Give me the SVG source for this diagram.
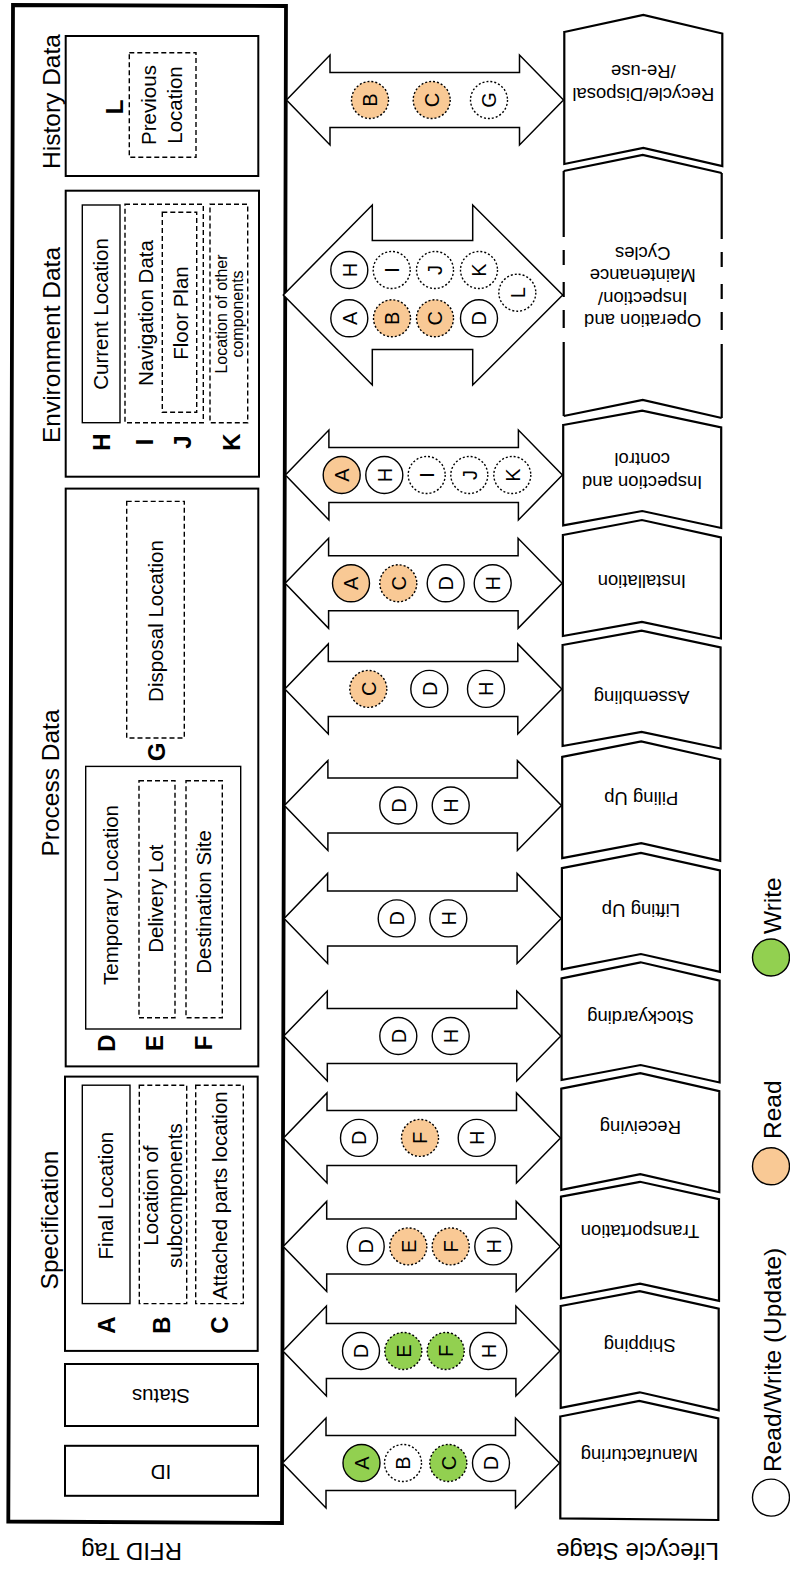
<svg xmlns="http://www.w3.org/2000/svg" width="790" height="1571" viewBox="0 0 790 1571">
<style>
  text { font-family: "Liberation Sans", Arial, sans-serif; fill: #000; }
  .title { font-size: 24.5px; }
  .lbl { font-size: 20.5px; }
  .small { font-size: 16px; }
  .key { font-size: 24px; font-weight: bold; }
  .st { font-size: 18.5px; }
  .cl { font-size: 20px; }
  .legend { font-size: 24.5px; }
  .big { font-size: 24px; }
  .outer { fill: #fff; stroke: #000; stroke-width: 3.8; }
  .box { fill: #fff; stroke: #000; stroke-width: 2; }
  .thin { fill: none; stroke: #000; stroke-width: 1.4; }
  .dash { fill: none; stroke: #000; stroke-width: 1.4; stroke-dasharray: 5 3; }
  .arrow { fill: #fff; stroke: #000; stroke-width: 1.5; stroke-linejoin: miter; }
  .stage { fill: #fff; stroke: #000; stroke-width: 2.2; stroke-linejoin: miter; }
  .edge { fill: none; stroke: #000; stroke-width: 2.2; }
  .side { fill: none; stroke: #000; stroke-width: 2.2; stroke-dasharray: 66 13 15 17 15 13 18 14 300; }
  .c { fill: #fff; stroke: #000; stroke-width: 1.4; }
  .dot { stroke-dasharray: 2 2; }
  .rd { fill: #F9C995; }
  .wr { fill: #92D050; }
</style>
<defs>
  <path id="dbl" d="M284.5,0 L328,-45 L328,-27.5 L517.5,-27.5 L517.5,-45 L561.5,0 L517.5,45 L517.5,27.5 L328,27.5 L328,45 Z"/>
</defs>
<rect width="790" height="1571" fill="#fff"/>

<!-- RFID tag container -->
<g id="rfid-tag">
  <polygon class="outer" points="13,5 286,6 282,1523 8.3,1521.5"/>
</g>

<g id="history-data">
  <text class="title" transform="translate(60,101.5) rotate(-90)" text-anchor="middle">History Data</text>
  <rect class="box" x="65.7" y="36" width="192.6" height="140"/>
  <text class="key" transform="translate(123,107) rotate(-90)" text-anchor="middle">L</text>
  <rect class="dash" x="129.3" y="52.7" width="66.7" height="104.6"/>
  <text class="lbl" transform="translate(156,105) rotate(-90)" text-anchor="middle"><tspan x="0" y="0">Previous</tspan><tspan x="0" y="25.5">Location</tspan></text>
</g>

<g id="environment-data">
  <text class="title" transform="translate(60,345) rotate(-90)" text-anchor="middle">Environment Data</text>
  <rect class="box" x="65.7" y="190.7" width="193.3" height="286"/>
  <rect class="thin" x="82.3" y="205" width="37.7" height="217.7"/>
  <text class="lbl" transform="translate(108,314) rotate(-90)" text-anchor="middle">Current Location</text>
  <rect class="dash" x="125" y="204.3" width="78.3" height="218.4"/>
  <text class="lbl" transform="translate(153,313) rotate(-90)" text-anchor="middle">Navigation Data</text>
  <rect class="dash" x="162.3" y="212.3" width="34.4" height="200"/>
  <text class="lbl" transform="translate(188,313) rotate(-90)" text-anchor="middle">Floor Plan</text>
  <rect class="dash" x="210" y="204.3" width="37.7" height="218.4"/>
  <text class="small" transform="translate(226.7,314) rotate(-90)" text-anchor="middle"><tspan x="0" y="0">Location of other</tspan><tspan x="0" y="16.3">components</tspan></text>
  <text class="key" transform="translate(110,442) rotate(-90)" text-anchor="middle">H</text>
  <text class="key" transform="translate(153,442) rotate(-90)" text-anchor="middle">I</text>
  <text class="key" transform="translate(191,442) rotate(-90)" text-anchor="middle">J</text>
  <text class="key" transform="translate(240,442) rotate(-90)" text-anchor="middle">K</text>
</g>

<g id="process-data">
  <text class="title" transform="translate(58.5,783) rotate(-90)" text-anchor="middle">Process Data</text>
  <rect class="box" x="65.7" y="488.6" width="192.6" height="577.8"/>
  <rect class="dash" x="126.7" y="501.4" width="57.6" height="236.6"/>
  <text class="lbl" transform="translate(163,621) rotate(-90)" text-anchor="middle">Disposal Location</text>
  <text class="key" transform="translate(164.5,752) rotate(-90)" text-anchor="middle">G</text>
  <rect class="thin" x="85.7" y="766.4" width="155" height="262.6"/>
  <text class="lbl" transform="translate(118.3,895) rotate(-90)" text-anchor="middle">Temporary Location</text>
  <rect class="dash" x="139" y="780.7" width="36" height="237"/>
  <text class="lbl" transform="translate(163.3,898.6) rotate(-90)" text-anchor="middle">Delivery Lot</text>
  <rect class="dash" x="186" y="780.7" width="36.3" height="237"/>
  <text class="lbl" transform="translate(210.7,902) rotate(-90)" text-anchor="middle">Destination Site</text>
  <text class="key" transform="translate(115,1043) rotate(-90)" text-anchor="middle">D</text>
  <text class="key" transform="translate(163.3,1043) rotate(-90)" text-anchor="middle">E</text>
  <text class="key" transform="translate(211.7,1043) rotate(-90)" text-anchor="middle">F</text>
</g>

<g id="specification">
  <text class="title" transform="translate(57.5,1220) rotate(-90)" text-anchor="middle">Specification</text>
  <rect class="box" x="65" y="1076.6" width="192.7" height="274.3"/>
  <rect class="thin" x="82.3" y="1085.2" width="47.7" height="218.4"/>
  <text class="lbl" transform="translate(113.3,1195.6) rotate(-90)" text-anchor="middle">Final Location</text>
  <rect class="dash" x="139.3" y="1085.2" width="47.4" height="218.4"/>
  <text class="lbl" transform="translate(157.5,1195.6) rotate(-90)" text-anchor="middle"><tspan x="0" y="0">Location of</tspan><tspan x="0" y="24">subcomponents</tspan></text>
  <rect class="dash" x="195.7" y="1085.2" width="47.6" height="218.4"/>
  <text class="lbl" transform="translate(226.7,1195.6) rotate(-90)" text-anchor="middle">Attached parts location</text>
  <text class="key" transform="translate(115,1325) rotate(-90)" text-anchor="middle">A</text>
  <text class="key" transform="translate(170,1325) rotate(-90)" text-anchor="middle">B</text>
  <text class="key" transform="translate(228,1325) rotate(-90)" text-anchor="middle">C</text>
</g>

<g id="status">
  <rect class="box" x="65" y="1364" width="193" height="62"/>
  <text class="lbl" transform="translate(161,1389) rotate(180)" text-anchor="middle">Status</text>
</g>

<g id="tag-id">
  <rect class="box" x="65" y="1445.8" width="193" height="50"/>
  <text class="lbl" transform="translate(161,1464.5) rotate(180)" text-anchor="middle">ID</text>
</g>

<text class="big" transform="translate(131.5,1543) rotate(180)" text-anchor="middle">RFID Tag</text>

<!-- lifecycle stages -->
<g id="stage-recycle">
  <polygon class="stage" points="564.3,32 643.3,15 722.3,33.5 722.3,166 643.3,148 564.3,164"/>
  <text class="st" transform="translate(643.3,88) rotate(180)" text-anchor="middle"><tspan x="0" y="0">Recycle/Disposal</tspan><tspan x="0" y="23">/Re-use</tspan></text>
</g>
<g id="stage-operation">
  <polygon points="563.7,171 642.7,155 721.7,173 721.7,418 642.7,400 563.7,416" fill="#fff"/>
  <path class="edge" d="M563.7,171 L642.7,155 L721.7,173 M563.7,416 L642.7,400 L721.7,418"/>
  <path class="side" d="M563.7,171 V416 M721.7,173 V418"/>
  <text class="st" transform="translate(642.7,314) rotate(180)" text-anchor="middle"><tspan x="0" y="0">Operation and</tspan><tspan x="0" y="22.5">Inspection/</tspan><tspan x="0" y="45">Maintenance</tspan><tspan x="0" y="67.5">Cycles</tspan></text>
</g>
<g id="stage-inspection">
  <polygon class="stage" points="563.2,425 642.2,410.7 721.2,427.3 721.2,528 642.2,511 563.2,525.4"/>
  <text class="st" transform="translate(642.2,475.5) rotate(180)" text-anchor="middle"><tspan x="0" y="0">Inspection and</tspan><tspan x="0" y="23">control</tspan></text>
</g>
<g id="stage-installation">
  <polygon class="stage" points="562.9,535 641.9,520 720.9,537.5 720.9,638.5 641.9,621.8 562.9,636"/>
  <text class="st" transform="translate(641.9,575) rotate(180)" text-anchor="middle">Installation</text>
</g>
<g id="stage-assembling">
  <polygon class="stage" points="562.6,645 641.6,630.7 720.6,647.5 720.6,748.5 641.6,731.8 562.6,746"/>
  <text class="st" transform="translate(641.6,691) rotate(180)" text-anchor="middle">Assembling</text>
</g>
<g id="stage-piling">
  <polygon class="stage" points="562.2,756.8 641.2,741.4 720.2,759.3 720.2,860.8 641.2,843.2 562.2,858.2"/>
  <text class="st" transform="translate(641.2,791.5) rotate(180)" text-anchor="middle">Piling Up</text>
</g>
<g id="stage-lifting">
  <polygon class="stage" points="561.9,868.2 640.9,852.9 719.9,870.5 719.9,971.8 640.9,954 561.9,969.3"/>
  <text class="st" transform="translate(640.9,904) rotate(180)" text-anchor="middle">Lifting Up</text>
</g>
<g id="stage-stockyarding">
  <polygon class="stage" points="561.6,978.3 640.6,962.3 719.6,980.7 719.6,1082.5 640.6,1065 561.6,1080"/>
  <text class="st" transform="translate(640.6,1011) rotate(180)" text-anchor="middle">Stockyarding</text>
</g>
<g id="stage-receiving">
  <polygon class="stage" points="561.3,1088.7 640.3,1073.1 719.3,1091.2 719.3,1192.2 640.3,1174.2 561.3,1189.8"/>
  <text class="st" transform="translate(640.3,1121.4) rotate(180)" text-anchor="middle">Receiving</text>
</g>
<g id="stage-transportation">
  <polygon class="stage" points="561,1196.7 640,1181.8 719,1199.1 719,1300.9 640,1283.6 561,1298.5"/>
  <text class="st" transform="translate(640,1225) rotate(180)" text-anchor="middle">Transportation</text>
</g>
<g id="stage-shipping">
  <polygon class="stage" points="560.7,1306 639.7,1291.2 718.7,1308.6 718.7,1410.4 639.7,1392.3 560.7,1407.9"/>
  <text class="st" transform="translate(639.7,1339) rotate(180)" text-anchor="middle">Shipping</text>
</g>
<g id="stage-manufacturing">
  <polygon class="stage" points="560.3,1416.5 639.3,1400.9 718.3,1418.5 718.3,1520 560.3,1518.3"/>
  <text class="st" transform="translate(639.3,1449) rotate(180)" text-anchor="middle">Manufacturing</text>
</g>

<text class="big" transform="translate(637.5,1543) rotate(180)" text-anchor="middle">Lifecycle Stage</text>

<!-- two-way data exchange arrows between tag and stages -->
<g id="connectors">
  <use href="#dbl" class="arrow" x="2" y="100"/>
  <path class="arrow" d="M283.3,295 L372.3,205 L372.3,240.5 L472.7,240.5 L472.7,205 L562.7,295 L472.7,385 L472.7,349.5 L372.3,349.5 L372.3,385 Z"/>
  <use href="#dbl" class="arrow" x="0.9" y="475"/>
  <use href="#dbl" class="arrow" x="0.6" y="583.3"/>
  <use href="#dbl" class="arrow" x="0.3" y="688.9"/>
  <use href="#dbl" class="arrow" x="-0.1" y="805.5"/>
  <use href="#dbl" class="arrow" x="-0.4" y="918.4"/>
  <use href="#dbl" class="arrow" x="-0.7" y="1036"/>
  <use href="#dbl" class="arrow" x="-1" y="1137.9"/>
  <use href="#dbl" class="arrow" x="-1.3" y="1246.4"/>
  <use href="#dbl" class="arrow" x="-1.6" y="1351"/>
  <use href="#dbl" class="arrow" x="-2" y="1463"/>
</g>

<!-- data items touched at each stage -->
<g id="items-recycle">
  <circle class="c rd dot" cx="370" cy="100" r="18.5"/><text class="cl" transform="translate(370,100) rotate(-90)" text-anchor="middle" y="7.2">B</text>
  <circle class="c rd dot" cx="431.7" cy="100" r="18.5"/><text class="cl" transform="translate(431.7,100) rotate(-90)" text-anchor="middle" y="7.2">C</text>
  <circle class="c dot" cx="489" cy="100" r="18.5"/><text class="cl" transform="translate(489,100) rotate(-90)" text-anchor="middle" y="7.2">G</text>
</g>
<g id="items-operation">
  <circle class="c" cx="349.3" cy="270" r="18.5"/><text class="cl" transform="translate(349.3,270) rotate(-90)" text-anchor="middle" y="7.2">H</text>
  <circle class="c dot" cx="391.7" cy="270" r="18.5"/><text class="cl" transform="translate(391.7,270) rotate(-90)" text-anchor="middle" y="7.2">I</text>
  <circle class="c dot" cx="435" cy="270" r="18.5"/><text class="cl" transform="translate(435,270) rotate(-90)" text-anchor="middle" y="7.2">J</text>
  <circle class="c dot" cx="479" cy="270" r="18.5"/><text class="cl" transform="translate(479,270) rotate(-90)" text-anchor="middle" y="7.2">K</text>
  <circle class="c" cx="349.3" cy="318.3" r="18.5"/><text class="cl" transform="translate(349.3,318.3) rotate(-90)" text-anchor="middle" y="7.2">A</text>
  <circle class="c rd dot" cx="392" cy="318.3" r="18.5"/><text class="cl" transform="translate(392,318.3) rotate(-90)" text-anchor="middle" y="7.2">B</text>
  <circle class="c rd dot" cx="435" cy="318.3" r="18.5"/><text class="cl" transform="translate(435,318.3) rotate(-90)" text-anchor="middle" y="7.2">C</text>
  <circle class="c" cx="479" cy="318.3" r="18.5"/><text class="cl" transform="translate(479,318.3) rotate(-90)" text-anchor="middle" y="7.2">D</text>
  <circle class="c dot" cx="517.3" cy="292.7" r="18.5"/><text class="cl" transform="translate(517.3,292.7) rotate(-90)" text-anchor="middle" y="7.2">L</text>
</g>
<g id="items-inspection">
  <circle class="c rd" cx="341.7" cy="475" r="18.5"/><text class="cl" transform="translate(341.7,475) rotate(-90)" text-anchor="middle" y="7.2">A</text>
  <circle class="c" cx="384.3" cy="475" r="18.5"/><text class="cl" transform="translate(384.3,475) rotate(-90)" text-anchor="middle" y="7.2">H</text>
  <circle class="c dot" cx="426.7" cy="475" r="18.5"/><text class="cl" transform="translate(426.7,475) rotate(-90)" text-anchor="middle" y="7.2">I</text>
  <circle class="c dot" cx="469.3" cy="475" r="18.5"/><text class="cl" transform="translate(469.3,475) rotate(-90)" text-anchor="middle" y="7.2">J</text>
  <circle class="c dot" cx="512.3" cy="475" r="18.5"/><text class="cl" transform="translate(512.3,475) rotate(-90)" text-anchor="middle" y="7.2">K</text>
</g>
<g id="items-installation">
  <circle class="c rd" cx="351" cy="583.3" r="18.5"/><text class="cl" transform="translate(351,583.3) rotate(-90)" text-anchor="middle" y="7.2">A</text>
  <circle class="c rd dot" cx="398.3" cy="583.3" r="18.5"/><text class="cl" transform="translate(398.3,583.3) rotate(-90)" text-anchor="middle" y="7.2">C</text>
  <circle class="c" cx="445.7" cy="583.3" r="18.5"/><text class="cl" transform="translate(445.7,583.3) rotate(-90)" text-anchor="middle" y="7.2">D</text>
  <circle class="c" cx="492.7" cy="583.3" r="18.5"/><text class="cl" transform="translate(492.7,583.3) rotate(-90)" text-anchor="middle" y="7.2">H</text>
</g>
<g id="items-assembling">
  <circle class="c rd dot" cx="368.3" cy="688.9" r="18.5"/><text class="cl" transform="translate(368.3,688.9) rotate(-90)" text-anchor="middle" y="7.2">C</text>
  <circle class="c" cx="429.3" cy="688.9" r="18.5"/><text class="cl" transform="translate(429.3,688.9) rotate(-90)" text-anchor="middle" y="7.2">D</text>
  <circle class="c" cx="486" cy="688.9" r="18.5"/><text class="cl" transform="translate(486,688.9) rotate(-90)" text-anchor="middle" y="7.2">H</text>
</g>
<g id="items-piling">
  <circle class="c" cx="398.3" cy="805.5" r="18.5"/><text class="cl" transform="translate(398.3,805.5) rotate(-90)" text-anchor="middle" y="7.2">D</text>
  <circle class="c" cx="450.7" cy="805.5" r="18.5"/><text class="cl" transform="translate(450.7,805.5) rotate(-90)" text-anchor="middle" y="7.2">H</text>
</g>
<g id="items-lifting">
  <circle class="c" cx="396.7" cy="918.4" r="18.5"/><text class="cl" transform="translate(396.7,918.4) rotate(-90)" text-anchor="middle" y="7.2">D</text>
  <circle class="c" cx="448.3" cy="918.4" r="18.5"/><text class="cl" transform="translate(448.3,918.4) rotate(-90)" text-anchor="middle" y="7.2">H</text>
</g>
<g id="items-stockyarding">
  <circle class="c" cx="398.3" cy="1036" r="18.5"/><text class="cl" transform="translate(398.3,1036) rotate(-90)" text-anchor="middle" y="7.2">D</text>
  <circle class="c" cx="450.7" cy="1036" r="18.5"/><text class="cl" transform="translate(450.7,1036) rotate(-90)" text-anchor="middle" y="7.2">H</text>
</g>
<g id="items-receiving">
  <circle class="c" cx="359" cy="1137.9" r="18.5"/><text class="cl" transform="translate(359,1137.9) rotate(-90)" text-anchor="middle" y="7.2">D</text>
  <circle class="c rd dot" cx="420" cy="1137.9" r="18.5"/><text class="cl" transform="translate(420,1137.9) rotate(-90)" text-anchor="middle" y="7.2">F</text>
  <circle class="c" cx="476.7" cy="1137.9" r="18.5"/><text class="cl" transform="translate(476.7,1137.9) rotate(-90)" text-anchor="middle" y="7.2">H</text>
</g>
<g id="items-transportation">
  <circle class="c" cx="365.7" cy="1246.4" r="18.5"/><text class="cl" transform="translate(365.7,1246.4) rotate(-90)" text-anchor="middle" y="7.2">D</text>
  <circle class="c rd dot" cx="408.3" cy="1246.4" r="18.5"/><text class="cl" transform="translate(408.3,1246.4) rotate(-90)" text-anchor="middle" y="7.2">E</text>
  <circle class="c rd dot" cx="450.7" cy="1246.4" r="18.5"/><text class="cl" transform="translate(450.7,1246.4) rotate(-90)" text-anchor="middle" y="7.2">F</text>
  <circle class="c" cx="493.3" cy="1246.4" r="18.5"/><text class="cl" transform="translate(493.3,1246.4) rotate(-90)" text-anchor="middle" y="7.2">H</text>
</g>
<g id="items-shipping">
  <circle class="c" cx="361" cy="1351" r="18.5"/><text class="cl" transform="translate(361,1351) rotate(-90)" text-anchor="middle" y="7.2">D</text>
  <circle class="c wr dot" cx="403.3" cy="1351" r="18.5"/><text class="cl" transform="translate(403.3,1351) rotate(-90)" text-anchor="middle" y="7.2">E</text>
  <circle class="c wr dot" cx="445.7" cy="1351" r="18.5"/><text class="cl" transform="translate(445.7,1351) rotate(-90)" text-anchor="middle" y="7.2">F</text>
  <circle class="c" cx="488.3" cy="1351" r="18.5"/><text class="cl" transform="translate(488.3,1351) rotate(-90)" text-anchor="middle" y="7.2">H</text>
</g>
<g id="items-manufacturing">
  <circle class="c wr" cx="361.5" cy="1463" r="18.5"/><text class="cl" transform="translate(361.5,1463) rotate(-90)" text-anchor="middle" y="7.2">A</text>
  <circle class="c dot" cx="403" cy="1463" r="18.5"/><text class="cl" transform="translate(403,1463) rotate(-90)" text-anchor="middle" y="7.2">B</text>
  <circle class="c wr dot" cx="448.3" cy="1463" r="18.5"/><text class="cl" transform="translate(448.3,1463) rotate(-90)" text-anchor="middle" y="7.2">C</text>
  <circle class="c" cx="491" cy="1463" r="18.5"/><text class="cl" transform="translate(491,1463) rotate(-90)" text-anchor="middle" y="7.2">D</text>
</g>

<!-- legend -->
<g id="legend">
  <circle class="c wr" cx="771" cy="957.5" r="18.5"/>
  <text class="legend" transform="translate(780.5,934) rotate(-90)">Write</text>
  <circle class="c rd" cx="771" cy="1166.3" r="18.5"/>
  <text class="legend" transform="translate(780.5,1139) rotate(-90)">Read</text>
  <circle class="c" cx="771" cy="1497.6" r="18.5"/>
  <text class="legend" transform="translate(780.5,1472) rotate(-90)">Read/Write (Update)</text>
</g>
</svg>
